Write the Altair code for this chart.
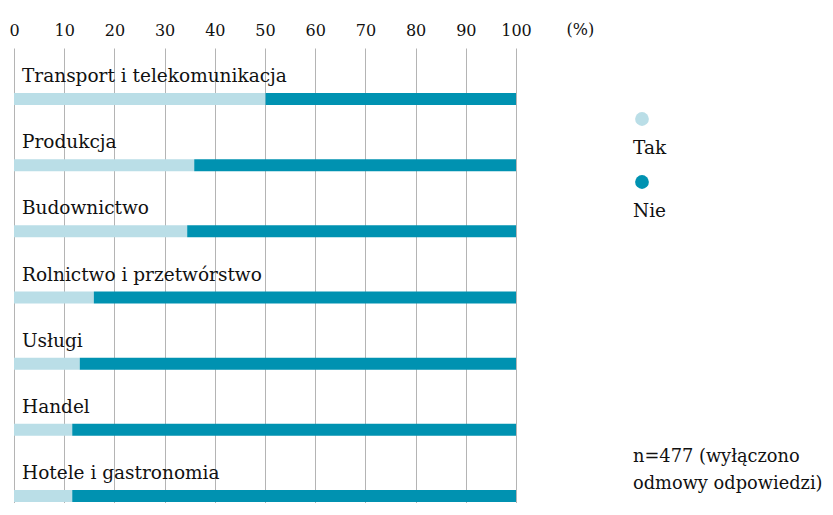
import altair as alt
import pandas as pd

categories = [
    "Transport i telekomunikacja",
    "Produkcja",
    "Budownictwo",
    "Rolnictwo i przetwórstwo",
    "Usługi",
    "Handel",
    "Hotele i gastronomia",
]
tak = [50.1, 35.9, 34.5, 15.9, 13.1, 11.6, 11.6]
nie = [49.9, 64.1, 65.5, 84.1, 86.9, 88.4, 88.4]
responses = ["Tak", "Nie"]
colors = ["#badee7", "#0092b1"]
x_ticks = [0, 10, 20, 30, 40, 50, 60, 70, 80, 90, 100]
note_lines = ["n=477 (wyłączono", "odmowy odpowiedzi)"]

FONT = "DejaVu Serif"
TXT = "#111111"
FS = 18.5

rows = []
for c, t, n in zip(categories, tak, nie):
    rows.append({"cat": c, "resp": "Tak", "val": t, "ord": 0})
    rows.append({"cat": c, "resp": "Nie", "val": n, "ord": 1})
df = pd.DataFrame(rows)

y = alt.Y("cat:N", sort=categories,
          scale=alt.Scale(paddingInner=0, paddingOuter=0, range=[0, 463]),
          axis=None)
color_scale = alt.Scale(domain=responses, range=colors)

bars = alt.Chart(df).mark_bar(height=12, yOffset=18).encode(
    x=alt.X("val:Q", stack="zero",
            scale=alt.Scale(domain=[0, 100], nice=False),
            axis=alt.Axis(orient="top", values=x_ticks, grid=True, domain=False,
                          ticks=False, tickSize=0, labelPadding=10,
                          labelFontSize=16, labelFont=FONT, labelColor=TXT,
                          labelFlush=False, gridColor="#b4b4b4", gridWidth=1,
                          title="(%)", titleX=552, titleY=-14, titleAngle=0,
                          titleAlign="left", titleBaseline="alphabetic",
                          titleFontWeight="normal", titleFont=FONT,
                          titleFontSize=16, titleColor=TXT)),
    y=y,
    color=alt.Color("resp:N", scale=color_scale, legend=None),
    order=alt.Order("ord:Q"),
)

labels = alt.Chart(pd.DataFrame({"cat": categories})).mark_text(
    align="left", baseline="alphabetic", dx=8, dy=1, font=FONT, fontSize=FS, color=TXT
).encode(x=alt.datum(0), y=y, text="cat:N")

main = alt.layer(bars, labels).properties(width=502, height=455)

leg_df = pd.DataFrame({"resp": responses})
ly = alt.Y("resp:N", sort=responses,
           scale=alt.Scale(type="point", domain=responses, range=[71, 134], padding=0),
           axis=None)
leg_pts = alt.Chart(leg_df).mark_circle(size=190, opacity=1).encode(
    x=alt.value(9), y=ly,
    color=alt.Color("resp:N", scale=color_scale, legend=None),
)
leg_txt = alt.Chart(leg_df).mark_text(
    align="left", baseline="alphabetic", dy=35, font=FONT, fontSize=FS, color=TXT
).encode(x=alt.value(0), y=ly, text="resp:N")
note = alt.Chart(pd.DataFrame({"a": [0]})).mark_text(
    text=note_lines, align="left", baseline="alphabetic", font=FONT,
    fontSize=17.8, color=TXT, lineHeight=27
).encode(x=alt.value(0), y=alt.value(414))

legend_panel = alt.layer(leg_pts, leg_txt, note).properties(width=150, height=455)

chart = alt.hconcat(main, legend_panel, spacing=117, bounds="flush").properties(
    padding={"left": 0, "top": 13, "right": 0, "bottom": 0}
).configure_view(stroke=None).configure_axis(labelFont=FONT, titleFont=FONT)

chart.save("out.html", embed_options={"renderer": "svg", "actions": False})
